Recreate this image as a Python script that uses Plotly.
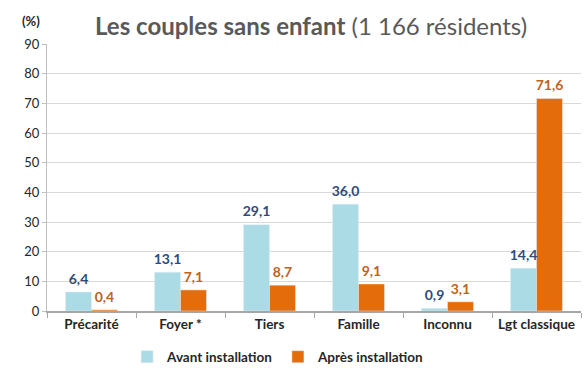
import plotly.graph_objects as go

categories = ["Précarité", "Foyer *", "Tiers", "Famille", "Inconnu", "Lgt classique"]
avant = [6.4, 13.1, 29.1, 36.0, 0.9, 14.4]
apres = [0.4, 7.1, 8.7, 9.1, 3.1, 71.6]
y_ticks = [0, 10, 20, 30, 40, 50, 60, 70, 80, 90]

FONT = "Lato"
GAP = 0.416

series = [
    ("Avant installation", avant, "#ABDBE5", "#2F4B7C"),
    ("Après installation", apres, "#E46C0A", "#C0621A"),
]

fig = go.Figure()
for i, (name, vals, bar_col, txt_col) in enumerate(series):
    fig.add_trace(go.Bar(
        x=categories, y=vals, name=f"<b>{name}</b>",
        marker=dict(color=bar_col), offsetgroup=str(i),
    ))
for i, (name, vals, bar_col, txt_col) in enumerate(series):
    # value labels, grouped like the bars and lifted by an invisible marker
    fig.add_trace(go.Scatter(
        x=categories, y=vals, mode="markers+text", offsetgroup=str(i),
        marker=dict(size=6, color="rgba(0,0,0,0)"),
        texttemplate="<b>%{y:.1f}</b>", textposition="top center",
        textfont=dict(family=FONT, size=14, color=txt_col),
        showlegend=False, hoverinfo="skip", cliponaxis=False,
    ))

fig.update_layout(
    width=584, height=368,
    margin=dict(l=47, r=3, t=44, b=57, autoexpand=False),
    paper_bgcolor="white", plot_bgcolor="white",
    separators=", ",
    barmode="group", bargap=GAP, bargroupgap=0,
    scattermode="group", scattergap=GAP,
    font=dict(family=FONT, size=13, color="#262626"),
    showlegend=True,
    legend=dict(orientation="h", x=0.15, xanchor="left", y=-0.172, yanchor="middle",
                font=dict(family=FONT, size=13.5, color="#262626"),
                itemwidth=30, traceorder="normal", tracegroupgap=0),
    annotations=[
        dict(text="<b>Les couples sans enfant</b> (1 166 résidents)",
             xref="paper", yref="paper", x=0.494, y=1.0, yanchor="bottom", yshift=2,
             showarrow=False, font=dict(family=FONT, size=24, color="#595959")),
        dict(text="<b>(%)</b>", xref="paper", yref="paper", x=-0.05, y=1.0,
             yanchor="bottom", yshift=13, showarrow=False,
             font=dict(family=FONT, size=13, color="#262626")),
    ],
)
fig.update_xaxes(
    showline=True, linecolor="#A6A6A6", linewidth=1.5,
    ticks="outside", tickson="boundaries", ticklen=5, tickcolor="#A6A6A6",
    tickangle=0,
    tickfont=dict(family=FONT, size=13.5, color="#262626"),
    tickprefix="<b>", ticksuffix="</b>",
)
fig.update_yaxes(
    range=[0, 90], tickvals=y_ticks,
    showline=True, linecolor="#BFBFBF", linewidth=1,
    ticks="outside", ticklen=4, tickcolor="#BFBFBF",
    showgrid=True, gridcolor="#D9D9D9", gridwidth=1,
    zeroline=False,
    tickfont=dict(family=FONT, size=13, color="#262626"),
    tickprefix="<b>", ticksuffix="</b>",
)

fig.write_html("out.html")
